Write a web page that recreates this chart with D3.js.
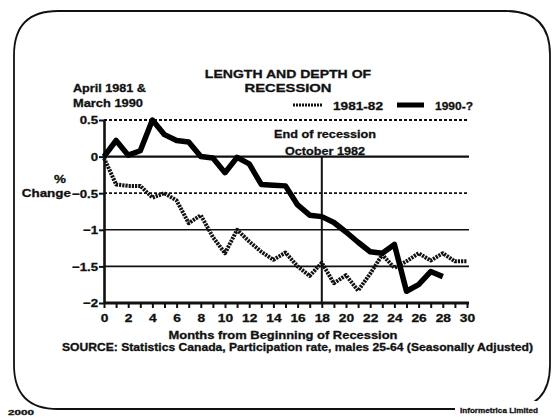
<!DOCTYPE html>
<html>
<head>
<meta charset="utf-8">
<script src="https://cdn.jsdelivr.net/npm/d3@7"></script>
<style>
  html, body { margin: 0; padding: 0; background: #fff; }
  svg { display: block; font-family: "Liberation Sans", Arial, sans-serif; font-weight: bold; }
  svg text { stroke: #111; stroke-width: 0.3px; fill: #111; }
</style>
</head>
<body>
<div id="chart"></div>
<script>
// chart values
const months = [0, 1, 2, 3, 4, 5, 6, 7, 8, 9, 10, 11, 12, 13, 14, 15, 16, 17, 18, 19, 20, 21, 22, 23, 24, 25, 26, 27, 28, 29, 30];
const rec1981 = [-0.02, -0.38, -0.4, -0.4, -0.56, -0.5, -0.6, -0.91, -0.8, -1.1, -1.32, -1.0, -1.16, -1.3, -1.41, -1.31,
                 -1.5, -1.63, -1.45, -1.73, -1.62, -1.83, -1.6, -1.34, -1.52, -1.43, -1.32, -1.42, -1.32, -1.43, -1.43];
const rec1990 = [0.0, 0.22, 0.02, 0.08, 0.5, 0.3, 0.22, 0.2, 0.0, -0.02, -0.22, -0.01, -0.1, -0.38, -0.39, -0.4,
                 -0.66, -0.8, -0.82, -0.9, -1.03, -1.17, -1.3, -1.32, -1.2, -1.84, -1.75, -1.57, -1.64];
const seriesNames = ['1981-82', '1990-?'];
const xTickLabels = [0, 2, 4, 6, 8, 10, 12, 14, 16, 18, 20, 22, 24, 26, 28, 30];
const yTicks = [0.5, 0, -0.5, -1, -1.5, -2];
const dottedGrid = [0.5, -0.5];
const solidGrid = [-1, -1.5];
const endOfRecession = 18;

const width = 558, height = 417;

const svg = d3.select('#chart').append('svg')
    .attr('width', width)
    .attr('height', height);

// stretched bold text, like the scanned lettering
function label(str, x, y, size, anchor, w) {
    const t = svg.append('text')
        .attr('x', x).attr('y', y)
        .attr('font-size', size)
        .attr('text-anchor', anchor)
        .text(str);
    const len = w || t.node().getComputedTextLength() * 1.22;
    t.attr('textLength', len).attr('lengthAdjust', 'spacingAndGlyphs');
    return t;
}

// rounded frame
const fx0 = 14, fx1 = 550, fy0 = 11, fy1 = 409, r = 44;
svg.append('path')
    .attr('d', `M${fx0},${fy1 - r} L${fx0},${fy0 + r} Q${fx0},${fy0} ${fx0 + r},${fy0}
                L${fx1 - r},${fy0} Q${fx1},${fy0} ${fx1},${fy0 + r}
                L${fx1},${fy1 - r} Q${fx1},${fy1} ${fx1 - r},${fy1}
                L${fx0 + r},${fy1} Q${fx0},${fy1} ${fx0},${fy1 - r}`)
    .attr('fill', 'none')
    .attr('stroke', '#111')
    .attr('stroke-width', 1.8);

// footer
svg.append('rect').attr('x', 455).attr('y', 401).attr('width', 90).attr('height', 16).attr('fill', '#fff');
label('Informetrica Limited', 538, 413, 8, 'end', 78);
label('2000', 8, 415, 7, 'start', 26);

// scales
const x = d3.scaleLinear().domain([0, 30]).range([104, 467]);
const y = d3.scaleLinear().domain([-2, 0.5]).range([303, 120]);
const gridRight = 469;

// grid lines
svg.selectAll('.grid-dot')
    .data(dottedGrid)
    .enter().append('line')
    .attr('x1', x(0)).attr('x2', gridRight)
    .attr('y1', d => y(d)).attr('y2', d => y(d))
    .attr('stroke', '#111').attr('stroke-width', 1.8)
    .attr('stroke-dasharray', '3,2');

svg.selectAll('.grid-solid')
    .data(solidGrid)
    .enter().append('line')
    .attr('x1', x(0)).attr('x2', gridRight)
    .attr('y1', d => y(d)).attr('y2', d => y(d))
    .attr('stroke', '#111').attr('stroke-width', 1.6);

svg.append('line')
    .attr('x1', x(0)).attr('x2', gridRight)
    .attr('y1', y(0)).attr('y2', y(0))
    .attr('stroke', '#111').attr('stroke-width', 2.2);

// end of recession marker
svg.append('line')
    .attr('x1', x(endOfRecession)).attr('x2', x(endOfRecession))
    .attr('y1', y(0)).attr('y2', y(-2))
    .attr('stroke', '#111').attr('stroke-width', 2);

// axes
const xAxis = svg.append('g')
    .attr('transform', `translate(0,${y(-2)})`)
    .call(d3.axisBottom(x)
        .tickValues(months)
        .tickSize(5)
        .tickSizeOuter(0)
        .tickFormat(d => xTickLabels.includes(d) ? d : ''));

const yAxis = svg.append('g')
    .attr('transform', `translate(${x(0)},0)`)
    .call(d3.axisLeft(y)
        .tickValues(yTicks)
        .tickSize(5)
        .tickSizeOuter(0)
        .tickFormat(d => d === 0 ? '0' : d3.format('')(d)));

xAxis.select('.domain').attr('stroke', '#111').attr('stroke-width', 3)
    .attr('d', `M${x(0)},0H${gridRight}`);
yAxis.select('.domain').attr('stroke', '#111').attr('stroke-width', 2.6);
xAxis.selectAll('.tick line').attr('stroke', '#111').attr('stroke-width', 2);
yAxis.selectAll('.tick line').attr('stroke', '#111').attr('stroke-width', 2);

xAxis.selectAll('.tick text')
    .attr('font-family', null).attr('font-size', 11).attr('fill', '#111')
    .attr('dy', null).attr('y', 19)
    .each(function () {
        const w = this.getComputedTextLength();
        if (w > 0) d3.select(this).attr('textLength', w * 1.25).attr('lengthAdjust', 'spacingAndGlyphs');
    });
yAxis.selectAll('.tick text')
    .attr('font-family', null).attr('font-size', 11).attr('fill', '#111')
    .attr('x', -6).attr('dy', '0.36em')
    .each(function () {
        const w = this.getComputedTextLength();
        d3.select(this).attr('textLength', w * 1.2).attr('lengthAdjust', 'spacingAndGlyphs');
    });

// series
const line = d3.line()
    .x((d, i) => x(months[i]))
    .y(d => y(d));

svg.append('path')
    .datum(rec1981)
    .attr('d', line)
    .attr('fill', 'none')
    .attr('stroke', '#111')
    .attr('stroke-width', 4)
    .attr('stroke-linejoin', 'round')
    .attr('stroke-dasharray', '2.2,1');

svg.append('path')
    .datum(rec1990)
    .attr('d', line)
    .attr('fill', 'none')
    .attr('stroke', '#000')
    .attr('stroke-width', 5.5)
    .attr('stroke-linejoin', 'round');

// legend
svg.append('line')
    .attr('x1', 293).attr('x2', 322).attr('y1', 105).attr('y2', 105)
    .attr('stroke', '#111').attr('stroke-width', 3).attr('stroke-dasharray', '2,1');
label(seriesNames[0], 333, 110, 11, 'start', 50);
svg.append('line')
    .attr('x1', 397).attr('x2', 424).attr('y1', 105).attr('y2', 105)
    .attr('stroke', '#000').attr('stroke-width', 5);
label(seriesNames[1], 435, 110, 11, 'start', 38);

// titles and notes
label('LENGTH AND DEPTH OF', 288, 78, 11.5, 'middle');
label('RECESSION', 288, 92, 11.5, 'middle', 87);
label('April 1981 &', 73, 92, 11, 'start', 73);
label('March 1990', 73, 107, 11, 'start', 70);
label('End of recession', 325, 138, 11, 'middle', 102);
label('October 1982', 325, 155, 11, 'middle', 80);
label('%', 60, 183, 11, 'middle');
label('Change', 71, 197, 11, 'end');
label('Months  from Beginning of Recession', 283, 339, 11, 'middle', 229);
label('SOURCE: Statistics Canada, Participation rate, males 25-64 (Seasonally Adjusted)', 62, 351, 10.5, 'start', 471);
</script>
</body>
</html>
